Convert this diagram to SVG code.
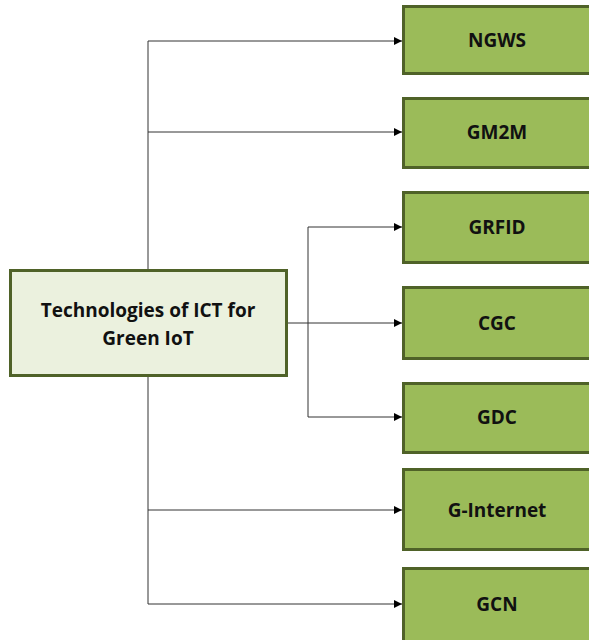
<svg xmlns="http://www.w3.org/2000/svg" width="589" height="640" viewBox="0 0 589 640">
  <style>
    .main { fill: #ebf1de; stroke: #4f6228; stroke-width: 3; }
    .leaf { fill: #9bbb59; stroke: #4f6228; stroke-width: 3; }
    .label { font-family: "Open Sans", "Liberation Sans", sans-serif; font-weight: bold; font-size: 19px; fill: #111; text-anchor: middle; }
    .wire { fill: none; stroke: #333; stroke-width: 1; }
  </style>
  <defs>
    <marker id="arrow" viewBox="0 0 10 10" refX="10" refY="5" markerWidth="10" markerHeight="8" markerUnits="userSpaceOnUse" orient="auto">
      <path d="M0,0 L10,5 L0,10 z" fill="#000"/>
    </marker>
  </defs>
  <rect width="589" height="640" fill="#fff"/>

  <g id="connectors">
    <path class="wire" d="M148,270 V41 H402" marker-end="url(#arrow)"/>
    <path class="wire" d="M148,132 H402" marker-end="url(#arrow)"/>
    <path class="wire" d="M287,323 H402" marker-end="url(#arrow)"/>
    <path class="wire" d="M308,417 V227 H402" marker-end="url(#arrow)"/>
    <path class="wire" d="M308,417 H402" marker-end="url(#arrow)"/>
    <path class="wire" d="M148,376 V604 H402" marker-end="url(#arrow)"/>
    <path class="wire" d="M148,510 H402" marker-end="url(#arrow)"/>
  </g>

  <g id="root">
    <rect class="main" x="10.5" y="270.5" width="276" height="105"/>
    <text class="label" x="148" y="317">Technologies of ICT for</text>
    <text class="label" x="148" y="345">Green IoT</text>
  </g>

  <g id="ngws">
    <rect class="leaf" x="403.5" y="6.5" width="190" height="67"/>
    <text class="label" x="497" y="47">NGWS</text>
  </g>
  <g id="gm2m">
    <rect class="leaf" x="403.5" y="98.5" width="190" height="69"/>
    <text class="label" x="497" y="139">GM2M</text>
  </g>
  <g id="grfid">
    <rect class="leaf" x="403.5" y="192.5" width="190" height="70"/>
    <text class="label" x="497" y="234">GRFID</text>
  </g>
  <g id="cgc">
    <rect class="leaf" x="403.5" y="287.5" width="190" height="71"/>
    <text class="label" x="497" y="330">CGC</text>
  </g>
  <g id="gdc">
    <rect class="leaf" x="403.5" y="383.5" width="190" height="69"/>
    <text class="label" x="497" y="424">GDC</text>
  </g>
  <g id="g-internet">
    <rect class="leaf" x="403.5" y="469.5" width="190" height="80"/>
    <text class="label" x="497" y="517">G-Internet</text>
  </g>
  <g id="gcn">
    <rect class="leaf" x="403.5" y="568.5" width="190" height="76"/>
    <text class="label" x="497" y="611">GCN</text>
  </g>
</svg>
